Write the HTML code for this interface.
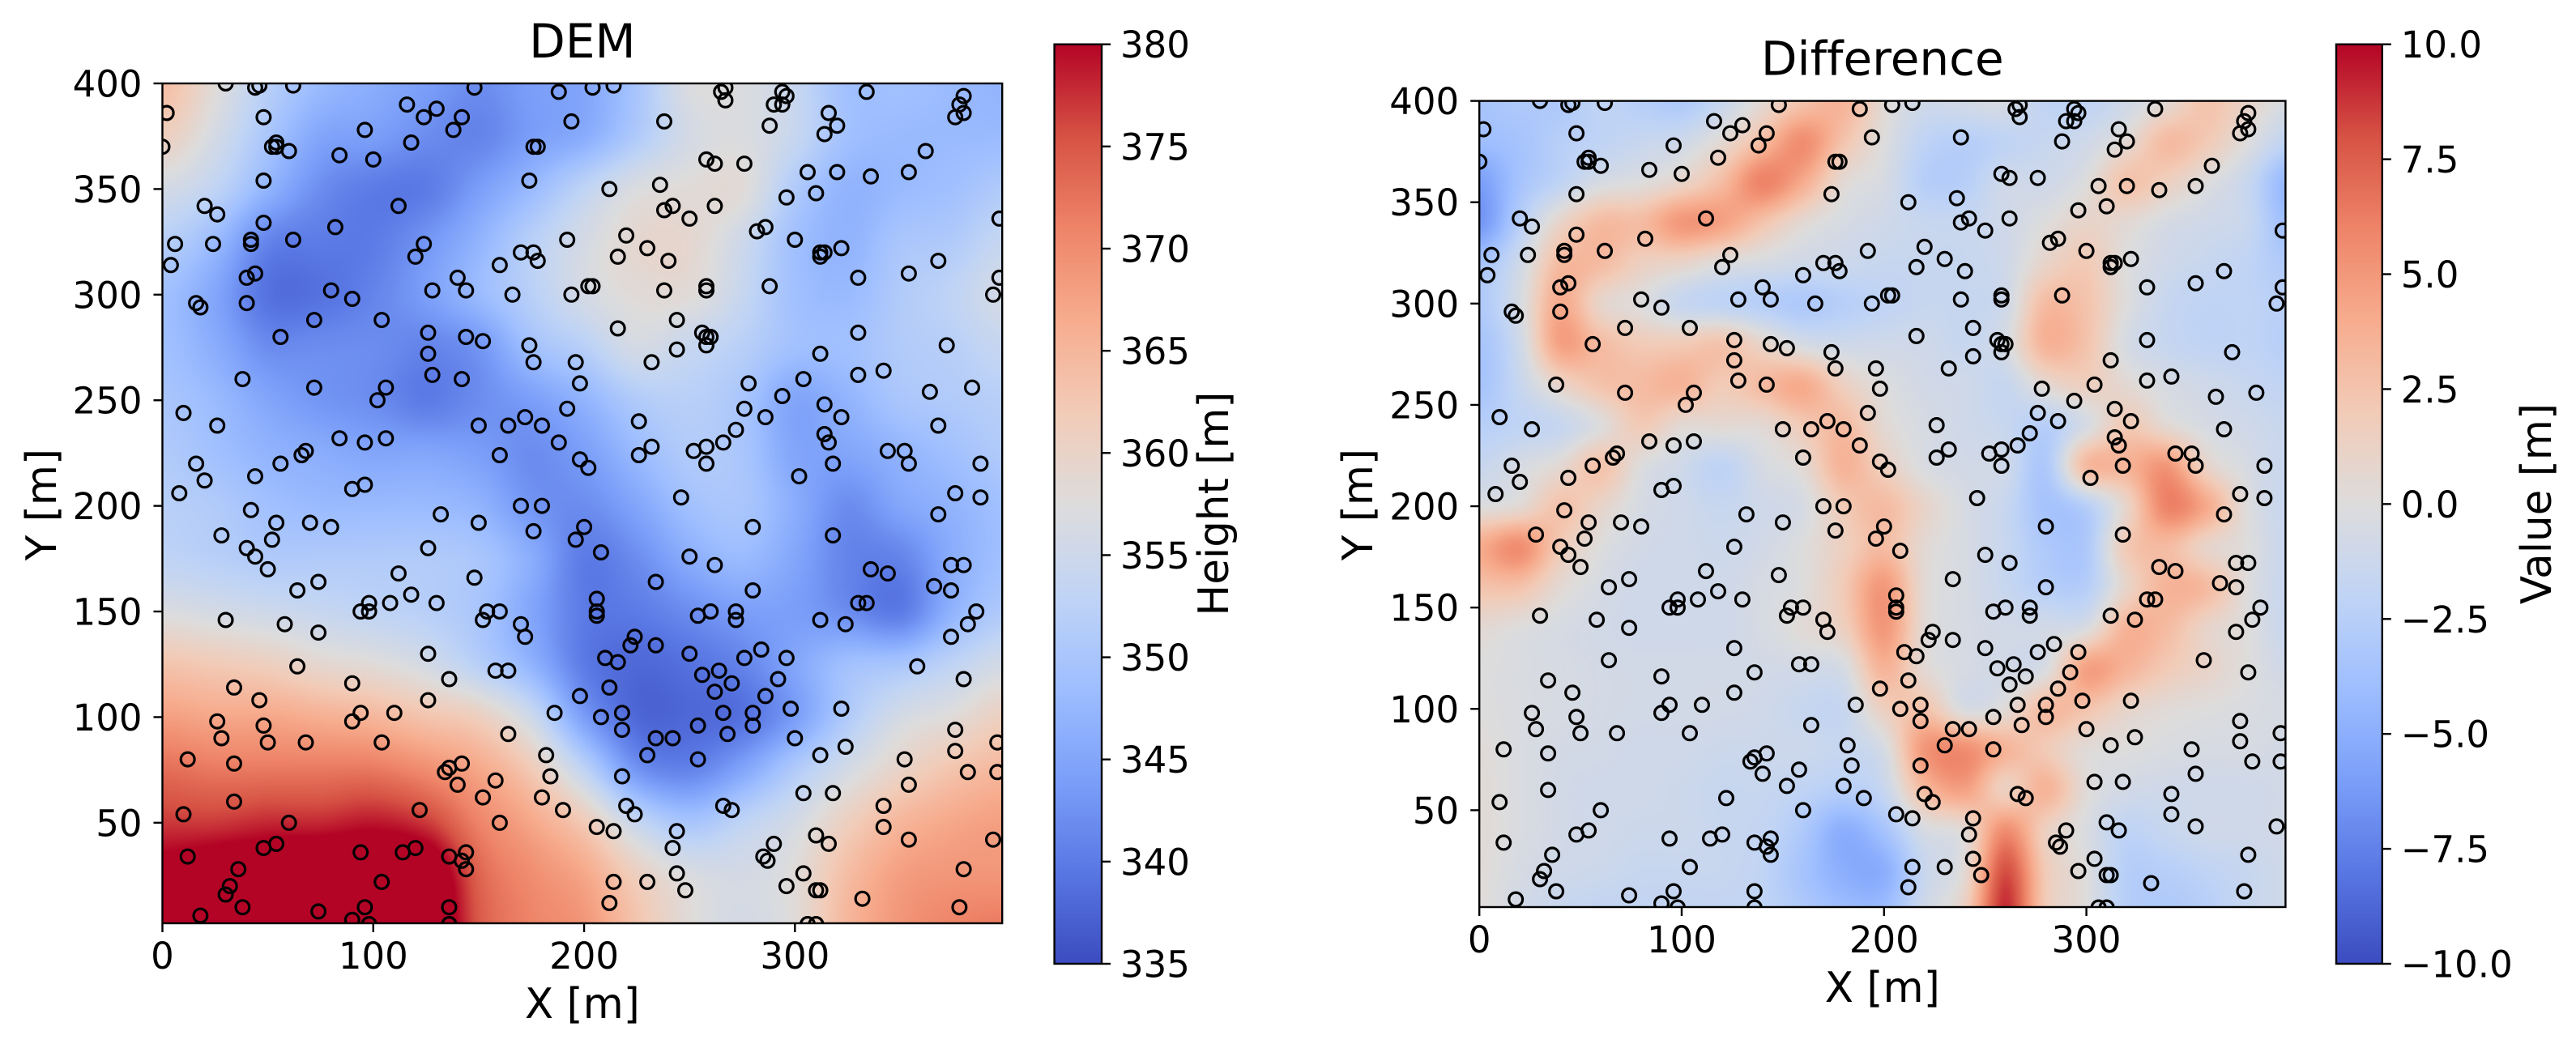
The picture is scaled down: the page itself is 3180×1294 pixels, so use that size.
<!DOCTYPE html>
<html lang="en">
<head>
<meta charset="utf-8">
<title>DEM and Difference maps</title>
<style>
html,body{margin:0;padding:0;background:#fff;}
#figure{position:relative;width:3180px;height:1294px;background:#fff;overflow:hidden;}
canvas{position:absolute;display:block;}
svg{position:absolute;left:0;top:0;}
text{font-family:"DejaVu Sans","Liberation Sans",sans-serif;fill:#000;font-variant-ligatures:none;}
</style>
</head>
<body>
<div id="figure">
<canvas id="dem-canvas"></canvas>
<canvas id="diff-canvas"></canvas>
<svg id="overlay" width="3180" height="1294" viewBox="0 0 3180 1294">
<defs>
<clipPath id="dem-clip"><rect x="200.5" y="103" width="1036.7" height="1037"></rect></clipPath>
<clipPath id="diff-clip"><rect x="1826.2" y="124.6" width="995.2" height="995.4"></rect></clipPath>
<linearGradient id="cmap-gradient" x1="0" y1="1" x2="0" y2="0"></linearGradient>
</defs>
</svg>
</div>
<script>
// Colormap stops (coolwarm)
const cmapStops = ["#3b4cc0","#5977e3","#7b9ff9","#9ebeff","#c0d4f5","#dddcdc","#f2cbb7","#f7ac8e","#ee8468","#d65244","#b40426"];

// Grid coordinates of both fields
const demGridX = [0,25,50,75,100,125,150,175,200,225,250,275,300,325,350,375,400];
const demGridY = [400,375,350,325,300,275,250,225,200,175,150,125,100,75,50,25,0];
const diffGridX = [0,20,40,60,80,100,120,140,160,180,200,220,240,260,280,300,320,340,360,380,400];
const diffGridY = [400,380,360,340,320,300,280,260,240,220,200,180,160,140,120,100,80,60,40,20,0];

// DEM heights [m], one row per demGridY value
const demValues = [
[364,358,352,348,346,344,342,344,345,350,357,357,354,349,349,348,347],
[361,356,350,345,344,342,341,344,346,351,356,357,354,349,348,348,348],
[356,353,347,342,340,340,344,348,353,357,358,358,351,347,348,349,351],
[352,348,341,340,340,343,347,352,356,359,359,355,349,347,350,351,354],
[349,345,339,339,341,344,348,352,356,358,358,354,349,348,351,353,356],
[349,346,342,342,342,341,343,349,352,356,354,352,349,349,351,352,354],
[350,348,345,343,342,340,342,344,347,351,352,350,345,347,350,351,352],
[351,349,347,346,345,345,344,342,344,348,351,350,345,345,347,349,351],
[352,351,349,348,348,348,347,343,342,345,349,350,346,342,345,347,349],
[353,352,351,351,351,351,350,346,340,342,346,348,345,341,341,346,349],
[357,356,355,354,353,352,350,345,340,340,342,344,344,342,340,347,351],
[363,362,361,359,358,356,352,347,340,338,339,341,345,349,350,353,356],
[368,367,367,366,365,363,361,355,344,338,338,339,344,351,356,358,361],
[373,372,372,372,372,370,367,362,353,343,341,345,351,356,360,363,365],
[377,377,378,378,379,377,371,367,362,354,350,353,356,361,365,367,368],
[382,384,385,386,386,385,374,370,367,361,357,356,358,364,368,369,369],
[384,386,388,388,388,387,375,371,369,363,358,356,358,365,369,371,372]
];

// Difference values [m], one row per diffGridY value
const diffValues = [
[-3.5,-3,-3,-2,-2.5,-3,-1.5,0.5,2.5,3.5,0.5,-1,-0.8,-0.5,-2,-2,-1,0.5,2.5,1,-0.5],
[-4,-3.5,-2.5,-2,-1.5,-1,0.5,3,5.5,2.5,0,-2,-2.5,-2,-1.5,-1,0.5,3,2,0,-2],
[-6,-3.5,-2,-0.5,0,1,3,6,4,0.5,-0.5,-2.5,-2.5,-1,-1,0,2.5,1.5,0,-1.5,-4.5],
[-6.5,-2.5,1,3,3,5,4.5,2.5,0.5,-0.5,-1,-1.5,-1.5,-1,0,1,0.5,-0.5,-1,-1.5,-4],
[-3.5,-1,3,3,1.5,1,0,-0.5,-1,-1.2,-1.5,-1.5,-1.5,-1,1,2,0,-1,-1.5,-2,-3],
[-3,-0.5,4,1,0,-1.5,-2,-2.5,-3,-2.5,-2,-1.5,-1.5,-1,3,2.5,0,-1.5,-2,-2,-2.5],
[-3.5,-1,4.5,3,2,2,2.5,1,-0.5,-1,-1,-1,-1.5,-0.5,3.5,2.5,-0.5,-1.5,-2,-2,-2.5],
[-3.5,-1.5,1,2.5,3,3.5,2,3,4,1.5,0,-0.8,-1,-1.5,0.5,1.5,0.5,-0.5,-1,-1.5,-2],
[-2.5,-2,-1.5,0,2,0.5,0.5,0.5,2,3,0.5,-0.5,-1,-1.5,-2.5,-0.5,2,0.5,-0.5,-1,-1.5],
[-1.5,-0.5,0.5,2.5,0,-1,-2,-0.5,0.5,3.5,1.5,-0.3,-0.8,-1,-3,3,3.5,5,1,-0.5,-1.5],
[0,0.5,2.5,1,-0.5,-1,-1.5,-1,-0.5,2,3,1,-0.5,-1.5,-3.5,-2.5,1,6,4,0,-1.5],
[4,5.5,2,0,-0.8,-1,-1.2,-0.8,0,1.5,3,0.5,-0.5,-1.5,-3,-3,2,3,1,0,-1.5],
[2.5,2.5,0.5,-0.5,-1,-1,-1,-0.5,0,2,5,0.5,-0.5,-1.5,-2.5,-2.5,1,3.5,3,0,-1.5],
[0.5,0,-0.5,-0.8,-1,-1,-1,-0.5,0.3,1.5,5,0.5,-0.5,-0.8,-0.8,-0.3,3.5,3,1,0,-1.5],
[0,-0.3,-0.5,-0.7,-0.8,-0.8,-0.8,-0.8,-0.8,-0.5,3.5,0.5,-0.5,-0.8,-0.3,4.5,3.5,2,1,0,-1],
[0,-0.3,-0.5,-0.7,-0.8,-0.8,-0.8,-1,-1.5,-1.5,1.5,2.5,-0.3,0.3,3,2.5,1,0.3,0,-0.3,-0.5],
[0.2,-0.3,-0.7,-0.8,-1,-1,-1.2,-1.2,-1.2,-1.5,-0.5,5,5.5,3.5,2,0.3,0,-0.3,-0.5,-0.5,-0.8],
[0.3,-0.3,-0.8,-1,-1,-1.2,-1.5,-1.5,-2,-2.5,-1.5,3,4.5,1.5,3.5,0.3,-0.8,-1,-1,-1,-0.8],
[0.3,-0.3,-0.8,-1,-1.2,-1.2,-1.5,-1.8,-3,-5,-3.5,-0.5,0.5,5.5,1.5,-0.3,-2,-1.5,-1,-1,-0.8],
[0.2,-0.5,-1,-1.2,-1.5,-1.5,-1.5,-2,-3.5,-5,-5,-1.5,0.5,8,2,0,-2.5,-2.5,-2,-1.5,-1],
[0.2,-0.8,-1.5,-1.8,-1.8,-1.8,-1.8,-2,-3,-4,-4,-1,1.5,9,2,0,-2.5,-3,-2.5,-1.5,-1]
];

// Measurement locations [x, y] in metres, shown on both maps
const samplePoints = [
[30,400],[44,398],[46,399],[62,399],[148,398],[188,396],[204,398],[214,399],[2,386],[48,384],[116,390],[130,388],[124,384],[142,384],[138,378],[96,378],[194,382],[54,372],[52,370],[54,370],[60,368],[0,370],[118,372],[84,366],[100,364],[176,370],[178,370],[48,354],[174,354],[212,350],[20,342],[26,338],[112,342],[48,334],[82,332],[62,326],[42,326],[42,324],[192,326],[220,328],[6,324],[24,324],[124,324],[170,320],[176,320],[178,316],[216,318],[230,322],[4,314],[120,318],[160,314],[44,310],[40,308],[140,308],[80,302],[90,298],[128,302],[144,302],[166,300],[194,300],[202,304],[204,304],[16,296],[18,294],[40,296],[72,288],[104,288],[216,284],[56,280],[126,282],[144,280],[152,278],[174,276],[126,272],[176,268],[196,268],[128,262],[142,260],[198,258],[38,260],[72,256],[106,256],[102,250],[192,246],[172,242],[10,244],[26,238],[150,238],[164,238],[180,238],[226,240],[84,232],[96,230],[106,232],[188,230],[68,226],[66,224],[160,224],[226,224],[232,228],[16,220],[56,220],[198,222],[202,218],[20,212],[44,214],[96,210],[90,208],[8,206],[132,196],[170,200],[180,200],[42,198],[54,192],[70,192],[80,190],[150,192],[200,190],[176,188],
[28,186],[40,180],[44,176],[52,184],[50,170],[196,184],[208,178],[126,180],[112,168],[74,164],[64,160],[148,166],[118,158],[108,154],[98,154],[94,150],[98,150],[130,154],[154,150],[152,146],[160,150],[30,146],[58,144],[74,140],[170,144],[172,138],[206,156],[206,150],[206,148],[224,138],[222,134],[126,130],[64,124],[210,128],[216,126],[158,122],[164,122],[136,118],[90,116],[34,114],[212,114],[46,108],[126,108],[198,110],[94,102],[110,102],[26,98],[90,98],[48,96],[186,102],[208,100],[218,102],[218,94],[28,90],[50,88],[68,88],[104,88],[164,92],[182,82],[230,82],[12,80],[34,78],[142,78],[136,76],[134,74],[218,72],[184,72],[158,70],[140,68],[152,62],[180,62],[34,60],[122,56],[190,56],[220,58],[224,54],[10,54],[60,50],[160,50],[206,48],[214,46],[54,40],[48,38],[120,38],[114,36],[94,36],[144,36],[12,34],[136,34],[142,32],[144,28],[36,28],[32,20],[30,16],[104,22],[214,22],[230,22],[212,12],[38,10],[96,10],[136,10],[74,8],[18,6],[90,4],[98,2],[136,2],
[238,382],[267,398],[265,396],[267,392],[294,396],[296,394],[290,390],[294,390],[334,396],[380,394],[378,390],[380,386],[376,384],[316,386],[288,380],[320,380],[314,376],[362,368],[258,364],[262,362],[276,362],[306,358],[320,358],[336,356],[354,358],[310,348],[296,346],[236,352],[242,342],[238,340],[250,336],[262,342],[397,336],[286,332],[282,330],[300,326],[240,316],[312,320],[314,320],[312,318],[322,322],[368,316],[354,310],[330,308],[397,308],[394,300],[288,304],[258,304],[258,302],[238,302],[244,288],[330,282],[256,282],[258,280],[260,280],[258,276],[372,276],[244,274],[312,272],[232,268],[342,264],[330,262],[304,260],[278,258],[294,252],[384,256],[364,254],[314,248],[276,246],[322,242],[286,242],[368,238],[272,236],[314,234],[316,230],[266,230],[258,228],[252,226],[344,226],[352,226],[354,220],[258,220],[318,220],[388,220],[302,214],[376,206],[388,204],[246,204],[368,196],[280,190],[318,186],
[250,176],[262,172],[234,164],[280,160],[374,172],[380,172],[336,170],[344,168],[366,162],[374,160],[330,154],[334,154],[386,150],[382,144],[374,138],[312,146],[324,144],[260,150],[254,148],[272,150],[272,146],[234,134],[250,130],[284,132],[276,128],[296,128],[358,124],[264,122],[256,120],[380,118],[270,116],[292,118],[262,112],[286,110],[322,104],[298,104],[266,102],[280,102],[254,96],[280,96],[376,94],[268,92],[234,90],[242,90],[300,90],[396,88],[324,86],[376,84],[312,82],[254,80],[352,80],[354,68],[382,74],[396,74],[304,64],[318,64],[342,58],[266,58],[270,56],[342,48],[244,46],[354,42],[394,42],[290,40],[310,44],[316,40],[242,38],[285,34],[287,32],[380,28],[244,26],[304,26],[248,18],[296,20],[310,18],[312,18],[332,14],[378,10],[306,2],[310,2]
];

// Tick labels
const xTicks = [0,100,200,300];
const yTicks = [50,100,150,200,250,300,350,400];
const demBarTicks = [335,340,345,350,355,360,365,370,375,380];
const diffBarTicks = [-10,-7.5,-5,-2.5,0,2.5,5,7.5,10];

const NS = "http://www.w3.org/2000/svg";
const overlay = document.getElementById("overlay");
const stopRgb = cmapStops.map(function(h){
  return [parseInt(h.slice(1,3),16),parseInt(h.slice(3,5),16),parseInt(h.slice(5,7),16)];
});

function colormap(t){
  const c = Math.max(0,Math.min(1,t))*(stopRgb.length-1);
  const i = Math.min(stopRgb.length-2,Math.floor(c));
  const f = c-i;
  return [0,1,2].map(function(k){return stopRgb[i][k]+(stopRgb[i+1][k]-stopRgb[i][k])*f;});
}

function catmull(a,b,c,d,t){
  return 0.5*(2*b+(c-a)*t+(2*a-5*b+4*c-d)*t*t+(3*b-a-3*c+d)*t*t*t);
}

function sampleField(values,gridX,gridY,x,y){
  const stepX = gridX[1]-gridX[0];
  const stepY = gridY[1]-gridY[0];
  const fx = (x-gridX[0])/stepX;
  const fy = (y-gridY[0])/stepY;
  const ix = Math.max(0,Math.min(gridX.length-2,Math.floor(fx)));
  const iy = Math.max(0,Math.min(gridY.length-2,Math.floor(fy)));
  const tx = fx-ix;
  const ty = fy-iy;
  const rows = [];
  for(let j=-1;j<=2;j++){
    const r = values[Math.max(0,Math.min(gridY.length-1,iy+j))];
    rows.push(catmull(
      r[Math.max(0,ix-1)],r[ix],r[ix+1],r[Math.min(gridX.length-1,ix+2)],tx));
  }
  return catmull(rows[0],rows[1],rows[2],rows[3],ty);
}

function addText(str,x,y,size,anchor,name,rotate){
  const el = document.createElementNS(NS,"text");
  el.textContent = str;
  el.setAttribute("x",x);
  el.setAttribute("y",y);
  el.setAttribute("font-size",size);
  el.setAttribute("text-anchor",anchor);
  if(rotate){el.setAttribute("transform","rotate(-90 "+x+" "+y+")");}
  
  
  overlay.appendChild(el);
  return el;
}

function addLine(x1,y1,x2,y2,name){
  const el = document.createElementNS(NS,"line");
  el.setAttribute("x1",x1);
  el.setAttribute("y1",y1);
  el.setAttribute("x2",x2);
  el.setAttribute("y2",y2);
  el.setAttribute("stroke","#000");
  el.setAttribute("stroke-width","2.4");
  
  
  overlay.appendChild(el);
}

function addFrame(x,y,w,h,name,fill){
  const el = document.createElementNS(NS,"rect");
  el.setAttribute("x",x);
  el.setAttribute("y",y);
  el.setAttribute("width",w);
  el.setAttribute("height",h);
  el.setAttribute("fill",fill);
  el.setAttribute("stroke","#000");
  el.setAttribute("stroke-width","2.4");
  
  
  overlay.appendChild(el);
}

function fmtBar(v,decimals){
  const s = Math.abs(v).toFixed(decimals);
  return (v<0?"\u2212":"")+s;
}

function drawPanel(p){
  const xScale = function(v){return p.left+(v-p.xlim[0])/(p.xlim[1]-p.xlim[0])*p.width;};
  const yScale = function(v){return p.top+p.height-(v-p.ylim[0])/(p.ylim[1]-p.ylim[0])*p.height;};
  const colorScale = function(v){return colormap((v-p.vmin)/(p.vmax-p.vmin));};

  // heatmap
  const cv = document.getElementById(p.canvasId);
  const w = Math.round(p.width);
  const h = Math.round(p.height);
  cv.width = w;
  cv.height = h;
  cv.style.left = p.left+"px";
  cv.style.top = p.top+"px";
  cv.style.width = p.width+"px";
  cv.style.height = p.height+"px";
  const ctx = cv.getContext("2d");
  const img = ctx.createImageData(w,h);
  for(let py=0;py<h;py++){
    const dy = p.ylim[1]-(py+0.5)/h*(p.ylim[1]-p.ylim[0]);
    for(let px=0;px<w;px++){
      const dx = p.xlim[0]+(px+0.5)/w*(p.xlim[1]-p.xlim[0]);
      const c = colorScale(sampleField(p.values,p.gridX,p.gridY,dx,dy));
      const o = (py*w+px)*4;
      img.data[o]=c[0];
      img.data[o+1]=c[1];
      img.data[o+2]=c[2];
      img.data[o+3]=255;
    }
  }
  ctx.putImageData(img,0,0);

  // scatter points
  const group = document.createElementNS(NS,"g");
  group.setAttribute("clip-path","url(#"+p.clipId+")");
  
  
  overlay.appendChild(group);
  samplePoints.forEach(function(pt){
    const c = document.createElementNS(NS,"circle");
    c.setAttribute("cx",xScale(pt[0]).toFixed(1));
    c.setAttribute("cy",yScale(pt[1]).toFixed(1));
    c.setAttribute("r","8.4");
    c.setAttribute("fill","none");
    c.setAttribute("stroke","#000");
    c.setAttribute("stroke-width","3.2");
    
    
    group.appendChild(c);
  });

  // axes frame
  addFrame(p.left,p.top,p.width,p.height,p.prefix+"-axes-frame","none");

  // x ticks
  xTicks.forEach(function(v){
    const x = xScale(v);
    addLine(x,p.top+p.height,x,p.top+p.height+11,p.prefix+"-x-tick");
    addText(String(v),x,p.top+p.height+56,p.tickSize,"middle",p.prefix+"-x-tick-label");
  });
  // y ticks
  yTicks.forEach(function(v){
    const y = yScale(v);
    addLine(p.left-11,y,p.left,y,p.prefix+"-y-tick");
    addText(String(v),p.left-25,y+16.5,p.tickSize,"end",p.prefix+"-y-tick-label");
  });

  // titles and axis labels
  addText(p.title,p.left+p.width/2,p.top-32,58,"middle",p.prefix+"-title");
  addText("X [m]",p.left+p.width/2,p.top+p.height+117,51.5,"middle",p.prefix+"-x-axis-title");
  addText("Y [m]",p.yLabelX,623,51.5,"middle",p.prefix+"-y-axis-title",true);

  // colorbar
  addFrame(p.barLeft,p.barTop,p.barWidth,p.barHeight,p.prefix+"-colorbar","url(#cmap-gradient)");
  const barScale = function(v){return p.barTop+p.barHeight-(v-p.vmin)/(p.vmax-p.vmin)*p.barHeight;};
  p.barTicks.forEach(function(v){
    const y = barScale(v);
    addLine(p.barLeft+p.barWidth,y,p.barLeft+p.barWidth+11,y,p.prefix+"-colorbar-tick");
    addText(fmtBar(v,p.barDecimals),p.barLeft+p.barWidth+23,y+16.5,p.tickSize,"start",p.prefix+"-colorbar-tick-label");
  });
  addText(p.barLabel,p.barLabelX,622,51.5,"middle",p.prefix+"-colorbar-title",true);
}

// colorbar gradient
const gradient = document.getElementById("cmap-gradient");
cmapStops.forEach(function(col,i){
  const s = document.createElementNS(NS,"stop");
  s.setAttribute("offset",(i/(cmapStops.length-1)).toFixed(3));
  s.setAttribute("stop-color",col);
  gradient.appendChild(s);
});

drawPanel({
  prefix:"dem",canvasId:"dem-canvas",clipId:"dem-clip",title:"DEM",
  values:demValues,gridX:demGridX,gridY:demGridY,vmin:335,vmax:380,
  left:200.5,top:103,width:1036.7,height:1037,xlim:[0,398.3],ylim:[2.4,400],
  tickSize:45,yLabelX:69,
  barLeft:1301.6,barTop:54.7,barWidth:58.4,barHeight:1135.3,barTicks:demBarTicks,barDecimals:0,
  barLabel:"Height [m]",barLabelX:1516
});
drawPanel({
  prefix:"difference",canvasId:"diff-canvas",clipId:"diff-clip",title:"Difference",
  values:diffValues,gridX:diffGridX,gridY:diffGridY,vmin:-10,vmax:10,
  left:1826.2,top:124.6,width:995.2,height:995.4,xlim:[0,398.4],ylim:[2.2,400],
  tickSize:45,yLabelX:1694,
  barLeft:2884,barTop:54.7,barWidth:56.8,barHeight:1135.3,barTicks:diffBarTicks,barDecimals:1,
  barLabel:"Value [m]",barLabelX:3149
});
</script>
</body>
</html>
